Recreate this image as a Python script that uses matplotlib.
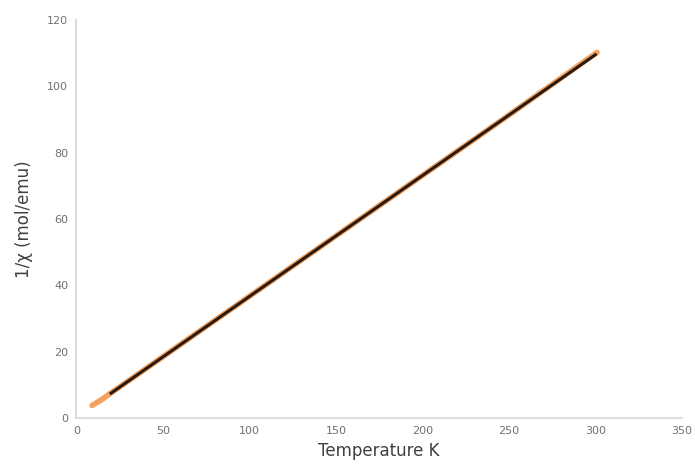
import matplotlib
matplotlib.use('Agg')
import matplotlib.pyplot as plt

# measured data (orange) and linear fit (black)
temp = [9, 15, 20, 30, 50, 75, 100, 150, 200, 250, 301]
inv_chi = [3.8, 5.7, 7.6, 11.2, 18.5, 27.6, 36.7, 54.9, 73.1, 91.3, 110.2]
fit_temp = [20, 300]
fit_inv_chi = [7.5, 109.5]

xticks = [0, 50, 100, 150, 200, 250, 300, 350]
yticks = [0, 20, 40, 60, 80, 100, 120]

plt.rcParams['font.family'] = ['DejaVu Sans']

fig = plt.figure(figsize=(6.95, 4.74), dpi=100)
ax = fig.add_axes([0.110, 0.118, 0.871, 0.840])

ax.plot(temp, inv_chi, color='#f4a15d', linewidth=4.0, solid_capstyle='round', zorder=2)
ax.plot(fit_temp, fit_inv_chi, color='#2a1a10', linewidth=2.2, zorder=3)

ax.set_xlim(0, 350)
ax.set_ylim(0, 120)
ax.set_xticks(xticks)
ax.set_yticks(yticks)
ax.tick_params(length=0, labelsize=8, labelcolor='#707070', pad=6)

for side in ['top', 'right']:
    ax.spines[side].set_visible(False)
for side in ['left', 'bottom']:
    ax.spines[side].set_color('#dddddd')
    ax.spines[side].set_linewidth(1.5)

ax.set_xlabel('Temperature K', fontsize=12, color='#404040', labelpad=4)
ax.set_ylabel('1/χ (mol/emu)', fontsize=12, color='#404040', labelpad=10)

plt.savefig('out.png', dpi=100, facecolor='white')
plt.close()
